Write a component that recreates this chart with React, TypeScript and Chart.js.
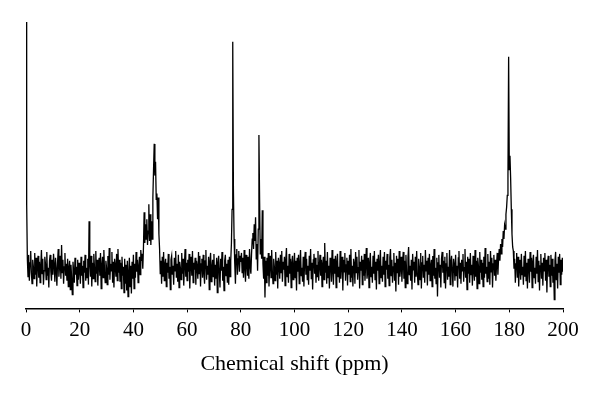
import React, { useEffect, useRef } from "react";
import { Chart, registerables } from "chart.js";

Chart.register(...registerables);

// Chemical shift sampling: first shift and step between samples (ppm)
const shiftStart = 0;
const shiftStep = 0.25;

// Intensity (arbitrary units), one value per 0.25 ppm, 0 → 200 ppm
// (each row = 5 ppm)
const intensity: number[] = [
  249, 65, 10, -8, 14, -12, 6, 18, -4, -15, 9, 2, -10, 16, -6, 11, -18, 4, 13, -9,
  7, -14, 3, 19, -5, 10, -16, -2, 12, 5, -11, 17, -7, 1, -19, 8, 14, -3, -12, 9,
  -6, 15, 4, -13, 11, -1, -17, 6, 20, -8, 3, 13, -10, 24, -4, 9, -15, 2, 16, -7,
  5, -12, 10, -18, 1, 8, -21, 4, -9, -26, 7, -3, -14, 11, -6, 2, -17, 9, -11, 6,
  -2, -15, 12, -7, 3, -19, 8, -4, 14, -12, 1, -9, 10, -16, 48, 5, -8, 13, -18, 6,
  -10, 15, 2, -13, 18, -5, 9, -17, 4, 11, -7, 16, -20, 3, 12, -9, 19, -3, -14, 8,
  1, -16, 13, -6, 21, -11, 5, -2, 17, -14, 7, -19, 10, 3, -8, 15, -12, 20, -4, 9,
  -13, 6, -20, 12, -7, 2, -24, 10, -15, 4, -22, 8, -28, -5, 11, -18, 3, -25, 7, -10,
  14, -20, 5, -9, 17, -3, 9, -14, 2, 12, -6, 19, 8, 15, 0, 22, 57, 26, 45, 30,
  50, 24, 38, 65, 28, 55, 24, 48, 30, 72, 100, 126, 94, 108, 70, 76, 50, 72, 35, 20,
  -5, 8, -15, 12, -8, 17, -12, 4, 10, -18, 6, -4, 15, -10, 2, -21, 9, 13, -6, 3,
  -16, 11, -2, 18, -9, 5, -13, 14, -19, 7, 1, -11, 16, -5, 10, -17, 3, 20, -8, 6,
  -12, 9, -3, 15, -20, 4, 12, -7, 18, -14, 6, -1, 11, -16, 8, 2, -10, 17, -5, 13,
  -18, 5, 10, -9, 14, -4, -15, 8, 19, -11, 3, -6, 12, -21, 7, 16, -13, 1, 9, -8,
  15, -17, 4, -10, 11, -24, 6, 13, -5, -19, 10, -2, 17, -12, 2, -22, 8, 14, -7, 5,
  -14, 9, -16, 12, -8, 8, 25, 60, 229, 80, 30, 5, -15, 14, 20, -6, 10, 18, -3, 13,
  7, 16, -4, 11, -9, 19, 2, -13, 14, 6, -7, 12, -10, 20, 3, -5, 15, 30, 36, 20,
  45, 28, 52, 10, 25, -2, 40, 135, 70, 15, 30, 10, 59, 5, -10, 12, -29, 8, -14, 11,
  -7, 16, -18, 4, 13, -9, 19, -3, -15, 10, 2, -12, 17, -6, 8, -20, 11, 5, -10, 14,
  -4, 18, -13, 7, -1, 12, -17, 9, 21, -8, 3, -14, 15, -5, 10, -19, 6, 13, -11, 2,
  16, -9, 8, -22, 11, -3, 14, -15, 5, 19, -7, 1, -13, 12, -18, 7, 17, -6, 10, -11,
  3, -16, 13, -2, 20, -10, 6, -21, 9, 15, -5, 11, -14, 4, -8, 18, -12, 2, 14, -7,
  9, -18, 5, 12, -11, 26, -4, 8, -15, 17, -9, 3, -20, 11, 6, -13, 19, -2, -16, 10,
  -5, 13, -19, 7, 15, -8, 2, -14, 18, -10, 6, 12, -22, 9, -3, 16, -12, 4, 11, -17,
  8, -6, 14, -13, 20, -9, 3, -18, 10, 5, -15, 17, -4, 12, -11, 1, 19, -20, 7, -2,
  13, -16, 9, -7, 15, -12, 4, 21, -10, -3, 11, -19, 6, 16, -8, 2, -14, 13, -5, 18,
  -11, 7, -21, 10, -2, 14, -15, 5, 19, -9, 3, -13, 12, -6, 17, -18, 8, -1, 15, -10,
  4, -17, 11, 20, -7, 9, -14, 2, 16, -12, 6, -23, 13, -4, 10, -16, 18, -8, 1, 12,
  -13, 5, 17, -10, 8, -19, 14, -3, -15, 11, 22, -6, 3, -12, 9, -21, 15, -1, 7, -14,
  12, -8, 18, -5, -16, 10, 2, -11, 16, -20, 6, 13, -9, 4, -14, 19, -2, 8, -17, 11,
  -6, 15, -12, 3, 9, -18, 13, -7, 20, -10, 1, -15, 11, -28, 6, 14, -9, 4, -19, 10,
  17, -4, 8, -14, 12, -20, 5, 16, -11, 2, -8, 19, -16, 7, 13, -3, -18, 10, 4, -12,
  14, -7, 3, -19, 11, 18, -10, 6, -15, 9, -2, 15, -13, 1, 20, -9, 7, -21, 12, -5,
  10, -14, 16, -6, 4, -17, 13, -1, -12, 19, -8, 8, -20, 11, 3, -15, 17, -4, 9, -11,
  6, -18, 12, -9, 21, -5, 2, -13, 15, -10, 7, -16, 18, -3, 11, -19, 5, 14, -7, 9,
  -12, 4, 16, -6, 10, 20, 8, 25, 15, 30, 22, 38, 30, 44, 40, 55, 62, 74, 95, 214,
  100, 114, 91, 60, 35, 22, 18, 0, 10, -14, 5, 16, -9, 12, -18, 3, 9, -11, 15, -6,
  2, -16, 13, -8, 18, -12, 6, -20, 10, 4, -14, 17, -3, 11, -19, 7, 14, -9, 1, -15,
  12, -5, 19, -13, 8, -22, 3, 15, -10, 6, -17, 11, -2, 16, -12, 9, -24, 5, 13, -8,
  4, -18, 14, -7, 10, -14, 2, -31, 8, 17, -11, 5, -20, 12, -4, 15, -16, 9, -6, 11,
  -3,
];

const axisMin = 0;
const axisMax = 200;
const tickStep = 20;
const axisTitle = "Chemical shift (ppm)";

const serif = "'Liberation Serif', 'DejaVu Serif', serif";

export default function App() {
  const canvasRef = useRef<HTMLCanvasElement | null>(null);

  useEffect(() => {
    const canvas = canvasRef.current;
    if (!canvas) return;
    const points = intensity.map((v, i) => ({ x: shiftStart + i * shiftStep, y: v }));
    const chart = new Chart(canvas, {
      type: "line",
      data: {
        datasets: [
          {
            data: points,
            borderColor: "#000",
            borderWidth: 1.3,
            pointRadius: 0,
            tension: 0,
            fill: false,
          },
        ],
      },
      options: {
        animation: false,
        responsive: false,
        maintainAspectRatio: false,
        devicePixelRatio: 1,
        layout: { padding: { left: 26, right: 37, top: 21, bottom: 15 } },
        plugins: { legend: { display: false }, tooltip: { enabled: false } },
        scales: {
          x: {
            type: "linear",
            min: axisMin,
            max: axisMax,
            ticks: {
              stepSize: tickStep,
              color: "#000",
              padding: 5,
              maxRotation: 0,
              font: { family: serif, size: 21 },
            },
            grid: {
              drawOnChartArea: false,
              drawTicks: true,
              tickLength: 4,
              color: "#000",
              lineWidth: 1,
            },
            border: { display: true, color: "#000", width: 1.6 },
            title: {
              display: true,
              text: axisTitle,
              color: "#000",
              padding: { top: 3, bottom: 4 },
              font: { family: serif, size: 22 },
            },
          },
          y: { display: false, min: -40, max: 250 },
        },
      },
    });
    return () => chart.destroy();
  }, []);

  return (
    <div style={{ position: "fixed", left: 0, top: 0, width: 600, height: 396, background: "#fff" }}>
      <canvas ref={canvasRef} width={600} height={396} />
    </div>
  );
}
